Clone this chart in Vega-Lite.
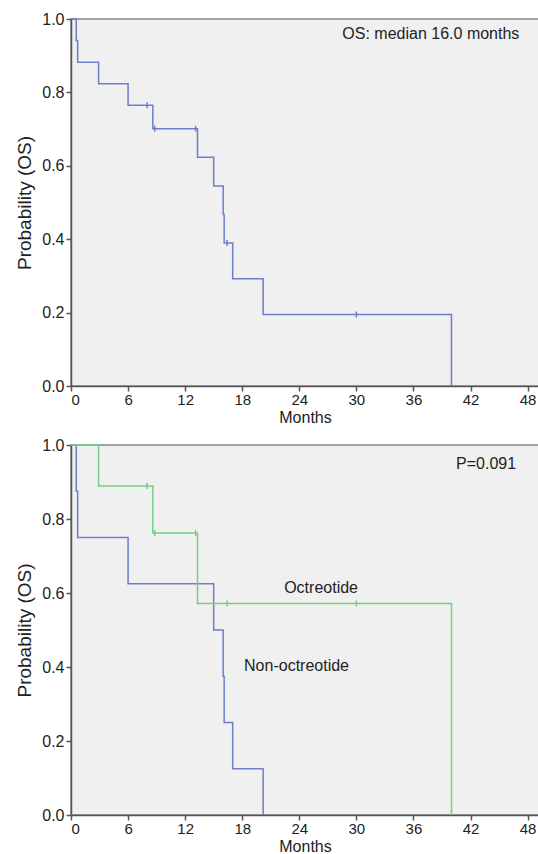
{
  "$schema": "https://vega.github.io/schema/vega-lite/v6.json",
  "padding": {"left": 14, "top": 10, "right": 0, "bottom": 0},
  "spacing": 10,
  "config": {
    "font": "Liberation Sans",
    "view": {"fill": "#f0f0f0", "stroke": "#858585", "strokeWidth": 1.5},
    "axis": {"grid": false, "domainColor": "#555555", "tickColor": "#555555", "labelColor": "#222222", "titleColor": "#222222", "labelFont": "Liberation Sans", "titleFont": "Liberation Sans", "titleFontWeight": "normal", "domainWidth": 1.5, "tickWidth": 1.5, "tickSize": 5},
    "axisX": {"labelFontSize": 15, "titleFontSize": 16, "titlePadding": 2, "labelPadding": 1},
    "axisY": {"labelFontSize": 16, "titleFontSize": 19, "titlePadding": 6, "labelPadding": 2, "minExtent": 31, "maxExtent": 31}
  },
  "datasets": {
    "overall": [
      {"t": 0, "s": 1},
      {"t": 0.55, "s": 0.9412},
      {"t": 0.7, "s": 0.8824},
      {"t": 2.9, "s": 0.8235},
      {"t": 6.0, "s": 0.7647},
      {"t": 8.6, "s": 0.7010},
      {"t": 13.3, "s": 0.6231},
      {"t": 15.0, "s": 0.5452},
      {"t": 16.0, "s": 0.4673},
      {"t": 16.1, "s": 0.3894},
      {"t": 17.0, "s": 0.2921},
      {"t": 20.2, "s": 0.1947},
      {"t": 40.0, "s": 0}
    ],
    "overallCensor": [
      {"t": 8.0, "s": 0.7647},
      {"t": 8.8, "s": 0.7010},
      {"t": 13.1, "s": 0.7010},
      {"t": 16.4, "s": 0.3894},
      {"t": 30.0, "s": 0.1947}
    ],
    "groups": [
      {"group": "Non-octreotide", "t": 0, "s": 1},
      {"group": "Non-octreotide", "t": 0.55, "s": 0.875},
      {"group": "Non-octreotide", "t": 0.7, "s": 0.75},
      {"group": "Non-octreotide", "t": 6.0, "s": 0.625},
      {"group": "Non-octreotide", "t": 15.0, "s": 0.5},
      {"group": "Non-octreotide", "t": 16.0, "s": 0.375},
      {"group": "Non-octreotide", "t": 16.1, "s": 0.25},
      {"group": "Non-octreotide", "t": 17.0, "s": 0.125},
      {"group": "Non-octreotide", "t": 20.2, "s": 0},
      {"group": "Octreotide", "t": 0, "s": 1},
      {"group": "Octreotide", "t": 2.9, "s": 0.8889},
      {"group": "Octreotide", "t": 8.6, "s": 0.7619},
      {"group": "Octreotide", "t": 13.3, "s": 0.5714},
      {"group": "Octreotide", "t": 40.0, "s": 0}
    ],
    "groupsCensor": [
      {"group": "Octreotide", "t": 8.0, "s": 0.8889},
      {"group": "Octreotide", "t": 8.8, "s": 0.7619},
      {"group": "Octreotide", "t": 13.1, "s": 0.7619},
      {"group": "Octreotide", "t": 16.4, "s": 0.5714},
      {"group": "Octreotide", "t": 30.0, "s": 0.5714}
    ],
    "topText": [
      {"label": "OS: median 16.0 months", "t": 37.83, "s": 0.958}
    ],
    "bottomText": [
      {"label": "P=0.091", "t": 43.64, "s": 0.949},
      {"label": "Octreotide", "t": 26.29, "s": 0.613},
      {"label": "Non-octreotide", "t": 23.71, "s": 0.403}
    ]
  },
  "vconcat": [
    {
      "width": 468,
      "height": 367,
      "layer": [
        {
          "data": {"name": "overall"},
          "mark": {"type": "line", "interpolate": "step-after", "color": "#6d7fc9", "strokeWidth": 1.5},
          "encoding": {
            "x": {"field": "t", "type": "quantitative", "scale": {"domain": [0, 49.2], "nice": false}, "axis": {"values": [0, 6, 12, 18, 24, 30, 36, 42, 48], "title": "Months"}},
            "y": {"field": "s", "type": "quantitative", "scale": {"domain": [0, 1]}, "axis": {"values": [0, 0.2, 0.4, 0.6, 0.8, 1.0], "format": ".1f", "title": "Probability (OS)"}}
          }
        },
        {
          "data": {"name": "overallCensor"},
          "mark": {"type": "tick", "orient": "vertical", "color": "#6d7fc9", "size": 6, "thickness": 1.5, "opacity": 1},
          "encoding": {
            "x": {"field": "t", "type": "quantitative"},
            "y": {"field": "s", "type": "quantitative"}
          }
        },
        {
          "data": {"name": "topText"},
          "mark": {"type": "text", "fontSize": 16, "color": "#222222", "align": "center", "baseline": "middle"},
          "encoding": {
            "x": {"field": "t", "type": "quantitative"},
            "y": {"field": "s", "type": "quantitative"},
            "text": {"field": "label"}
          }
        }
      ]
    },
    {
      "width": 468,
      "height": 370,
      "layer": [
        {
          "data": {"name": "groups"},
          "mark": {"type": "line", "interpolate": "step-after", "strokeWidth": 1.5},
          "encoding": {
            "x": {"field": "t", "type": "quantitative", "scale": {"domain": [0, 49.2], "nice": false}, "axis": {"values": [0, 6, 12, 18, 24, 30, 36, 42, 48], "title": "Months"}},
            "y": {"field": "s", "type": "quantitative", "scale": {"domain": [0, 1]}, "axis": {"values": [0, 0.2, 0.4, 0.6, 0.8, 1.0], "format": ".1f", "title": "Probability (OS)"}},
            "color": {"field": "group", "type": "nominal", "scale": {"domain": ["Non-octreotide", "Octreotide"], "range": ["#6d7fc9", "#74cf83"]}, "legend": null}
          }
        },
        {
          "data": {"name": "groupsCensor"},
          "mark": {"type": "tick", "orient": "vertical", "size": 6, "thickness": 1.5, "opacity": 1},
          "encoding": {
            "x": {"field": "t", "type": "quantitative"},
            "y": {"field": "s", "type": "quantitative"},
            "color": {"field": "group", "type": "nominal", "scale": {"domain": ["Non-octreotide", "Octreotide"], "range": ["#6d7fc9", "#74cf83"]}, "legend": null}
          }
        },
        {
          "data": {"name": "bottomText"},
          "mark": {"type": "text", "fontSize": 16, "color": "#222222", "align": "center", "baseline": "middle"},
          "encoding": {
            "x": {"field": "t", "type": "quantitative"},
            "y": {"field": "s", "type": "quantitative"},
            "text": {"field": "label"}
          }
        }
      ]
    }
  ]
}
